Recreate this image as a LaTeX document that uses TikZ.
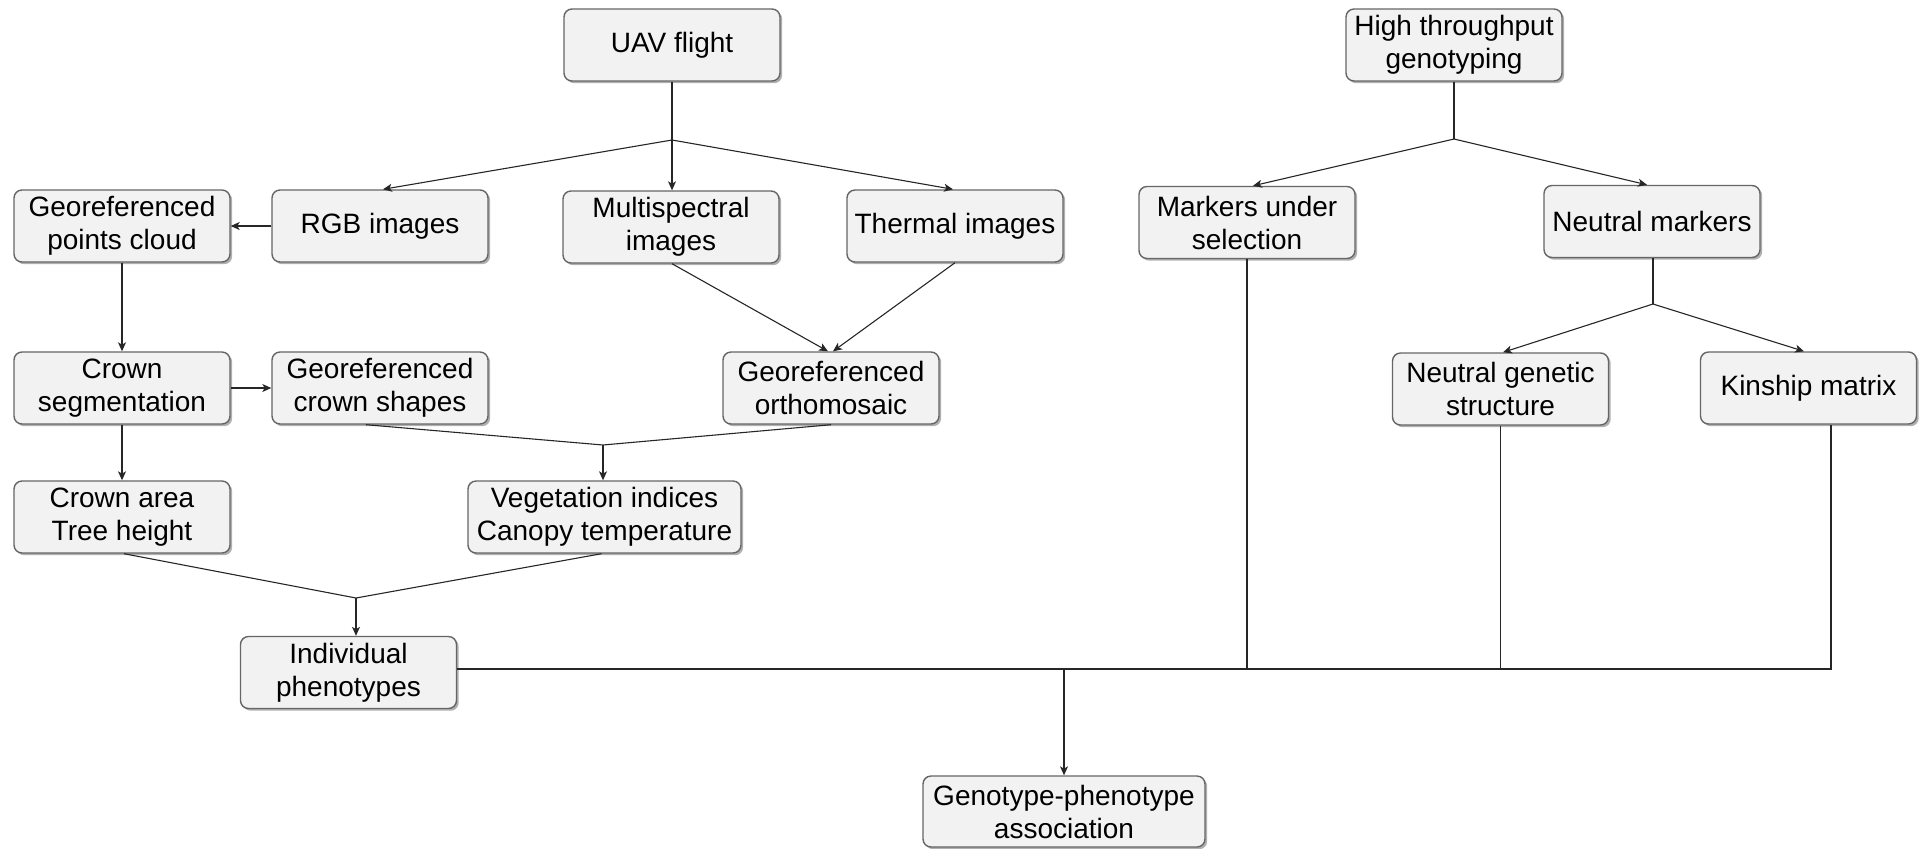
\documentclass[tikz,border=0pt]{standalone}
\usepackage{fontspec}
\setmainfont{Liberation Sans}
\usetikzlibrary{shadows,calc,arrows.meta}
\definecolor{boxfill}{HTML}{F2F2F2}
\definecolor{boxline}{HTML}{666666}
\definecolor{shad}{HTML}{B0B0B0}
\tikzset{
  box/.style={draw=boxline, line width=0.7pt, fill=boxfill, rounded corners=4pt,
    minimum width=108pt, minimum height=36pt, inner sep=0pt, align=center,
    font=\fontsize{14}{16.5}\selectfont,
    drop shadow={shadow xshift=1.1pt, shadow yshift=-1.1pt, fill=shad, opacity=1}},
  conn/.style={draw=black!85, line width=0.55pt},
  arr/.style={conn, -{Stealth[length=4.5pt, width=4pt, inset=1.2pt]}}
}
\begin{document}
\begin{tikzpicture}[x=0.5pt, y=-0.5pt]
\useasboundingbox (0,0) rectangle (1919,848);
% left part
\node[box] (uav) at (672,45) {UAV flight};
\node[box] (rgb) at (380,226) {RGB images};
\node[box] (pc) at (122,226) {Georeferenced\\points cloud};
\node[box] (ms) at (671,227) {Multispectral\\images};
\node[box] (th) at (955,226) {Thermal images};
\node[box] (cs) at (122,388) {Crown\\segmentation};
\node[box] (csh) at (380,388) {Georeferenced\\crown shapes};
\node[box] (orth) at (831,388) {Georeferenced\\orthomosaic};
\node[box] (ca) at (122,517) {Crown area\\Tree height};
\node[box, minimum width=136.5pt] (veg) at (604.5,517) {Vegetation indices\\Canopy temperature};
\node[box] (ip) at (348.5,672.5) {Individual\\phenotypes};
\node[box, minimum width=141pt, minimum height=35.5pt] (gp) at (1064,811.5) {Genotype-phenotype\\association};
% right part
\node[box] (ht) at (1454,45) {High throughput\\genotyping};
\node[box] (mus) at (1247,222.5) {Markers under\\selection};
\node[box] (nm) at (1652,221.5) {Neutral markers};
\node[box] (ngs) at (1500.5,389) {Neutral genetic\\structure};
\node[box] (km) at (1808.5,388) {Kinship matrix};
% junction coordinates
\coordinate (b1) at (672,140);
\coordinate (m1) at (603,445);
\coordinate (m2) at (356,598);
\coordinate (b2) at (1454,139);
\coordinate (b3) at (1653,304);
\coordinate (hR) at ($(km.south)+(22.5,0)$);
% connectors left
\draw[conn] (uav.south) -- (b1);
\draw[arr] (b1) -- ($(rgb.north)+(3,0)$);
\draw[arr] (b1) -- (b1 |- ms.north);
\draw[arr] (b1) -- ($(th.north)+(-2,0)$);
\draw[arr] (rgb.west) -- (pc.east);
\draw[arr] (pc.south) -- (cs.north);
\draw[arr] (cs.east) -- (csh.west);
\draw[arr] ($(ms.south)+(1,0)$) -- ($(orth.north)+(-3,0)$);
\draw[arr] (th.south) -- ($(orth.north)+(2,0)$);
\draw[conn] ($(csh.south)+(-14,0)$) -- (m1) -- (orth.south);
\draw[arr] (m1) -- (m1 |- veg.north);
\draw[arr] (cs.south) -- (ca.north);
\draw[conn] ($(ca.south)+(2,0)$) -- (m2) -- ($(veg.south)+(-3,0)$);
\draw[arr] (m2) -- (m2 |- ip.north);
% connectors right
\draw[conn] (ht.south) -- (b2);
\draw[arr] (b2) -- ($(mus.north)+(6,0)$);
\draw[arr] (b2) -- ($(nm.north)+(-5,0)$);
\draw[conn] ($(nm.south)+(1,0)$) -- (b3);
\draw[arr] (b3) -- ($(ngs.north)+(2.5,0)$);
\draw[arr] (b3) -- ($(km.north)+(-4.5,0)$);
% collector line
\draw[conn] (ip.east |- 0,669) -- (hR |- 0,669) -- (hR);
\draw[conn] (mus.south) -- (mus.south |- 0,669);
\draw[conn] (ngs.south) -- (ngs.south |- 0,669);
\draw[arr] (gp.north |- 0,669) -- (gp.north);
\end{tikzpicture}
\end{document}
